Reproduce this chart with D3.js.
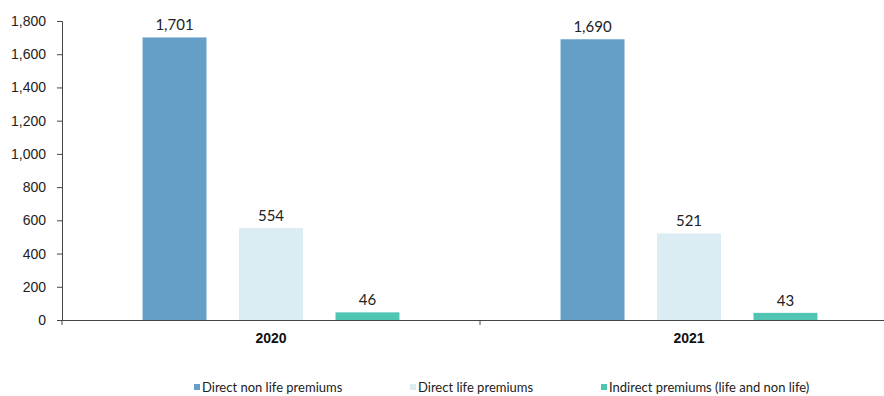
<!DOCTYPE html>
<html>
<head>
<meta charset="utf-8">
<script src="https://cdn.jsdelivr.net/npm/d3@7"></script>
<style>
  body { margin: 0; background: #fff; }
  svg { font-family: "Lato", "DejaVu Sans", sans-serif; }
</style>
</head>
<body>
<svg id="chart" width="884" height="396"></svg>
<script>
// chart data
var years = ["2020", "2021"];
var seriesNames = ["Direct non life premiums", "Direct life premiums", "Indirect premiums (life and non life)"];
var seriesColors = ["#659fc7", "#dbecf3", "#4fc5b2"];
var nonLife = [1701, 1690];
var life = [554, 521];
var indirect = [46, 43];
var yTicks = [0, 200, 400, 600, 800, 1000, 1200, 1400, 1600, 1800];

var svg = d3.select("#chart");

// plot box (not "top": that one is taken by window.top)
var plotLeft = 62, plotRight = 898, plotTop = 21, plotBottom = 320;

var x0 = d3.scaleBand().domain(years).range([plotLeft, plotRight]);
var x1 = d3.scaleBand().domain(d3.range(3))
    .range([0, x0.bandwidth()]).paddingInner(0.337).paddingOuter(0.835);
var y = d3.scaleLinear().domain([0, 1800]).range([plotBottom, plotTop]);

var rows = years.map(function(yr, i){
    return { year: yr, values: [nonLife[i], life[i], indirect[i]] };
});

// y axis
var yAxis = svg.append("g")
    .attr("transform", "translate(" + plotLeft + ",0)")
    .call(d3.axisLeft(y).tickValues(yTicks).tickSize(5).tickPadding(11)
        .tickFormat(d3.format(",")));
yAxis.selectAll("text").attr("font-size", 14).attr("fill", "#222");
yAxis.selectAll("line, path").attr("stroke", "#444");

// bars
var groups = svg.append("g").selectAll("g")
    .data(rows).enter().append("g")
    .attr("transform", function(d){ return "translate(" + x0(d.year) + ",0)"; });

groups.selectAll("rect")
    .data(function(d){ return d.values; })
    .enter().append("rect")
    .attr("x", function(d, i){ return x1(i); })
    .attr("width", x1.bandwidth())
    .attr("y", function(d){ return y(d); })
    .attr("height", function(d){ return plotBottom - y(d); })
    .attr("fill", function(d, i){ return seriesColors[i]; });

groups.selectAll("text")
    .data(function(d){ return d.values; })
    .enter().append("text")
    .attr("x", function(d, i){ return x1(i) + x1.bandwidth() / 2; })
    .attr("y", function(d){ return y(d) - 7; })
    .attr("text-anchor", "middle")
    .attr("font-size", 15)
    .attr("fill", "#222")
    .text(function(d){ return d3.format(",")(d); });

// x axis
var xAxis = svg.append("g")
    .attr("transform", "translate(0," + plotBottom + ")")
    .call(d3.axisBottom(x0).tickSize(0).tickPadding(13));
xAxis.select(".domain").attr("stroke", "#444");
xAxis.selectAll("text").attr("font-size", 14).attr("font-weight", "bold").attr("fill", "#111");
// category separators
xAxis.selectAll(".sep")
    .data([plotLeft, x0("2021")])
    .enter().append("line")
    .attr("x1", function(d){ return d; }).attr("x2", function(d){ return d; })
    .attr("y1", 0).attr("y2", 5)
    .attr("stroke", "#444");

// legend
var legendX = [194, 410, 601];
var legend = svg.append("g").selectAll("g")
    .data(seriesNames).enter().append("g")
    .attr("transform", function(d, i){ return "translate(" + legendX[i] + ",383)"; });
legend.append("rect").attr("width", 6).attr("height", 6).attr("y", 1)
    .attr("fill", function(d, i){ return seriesColors[i]; });
legend.append("text").attr("x", 8).attr("y", 8.5).attr("font-size", 13).attr("fill", "#222")
    .text(function(d){ return d; });
</script>
</body>
</html>
